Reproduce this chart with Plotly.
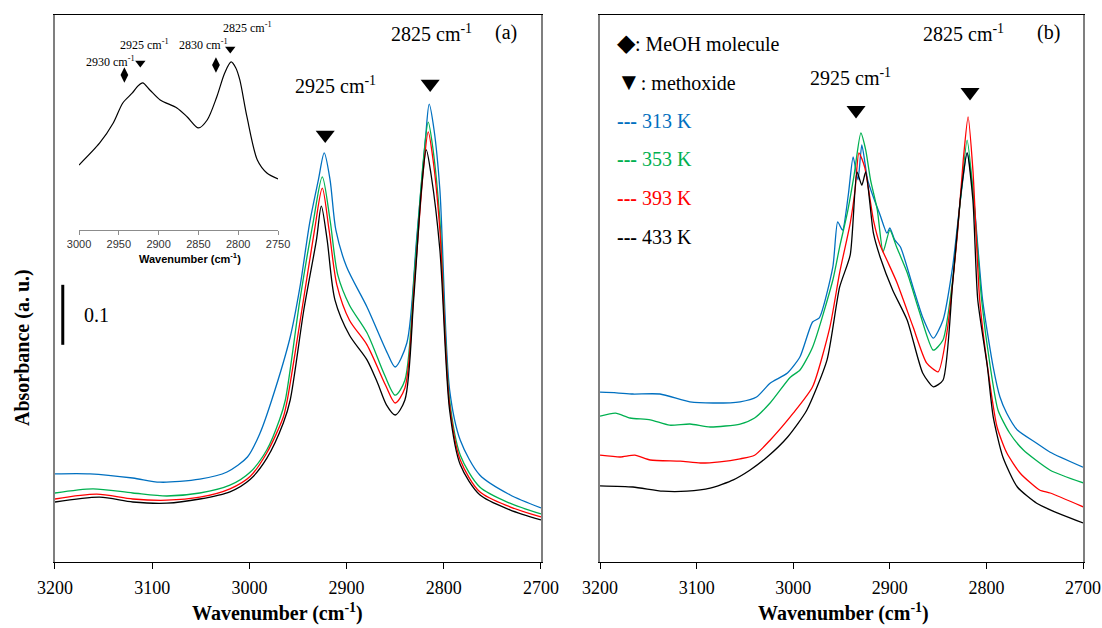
import plotly.graph_objects as go

# ---------------- Panel (a) data ----------------
a_wn_313 = [3200,3164,3120,3092,3051,3023,3002,2989,2977,2958,2948,2938,2929,2923,2917,2911,2900,2879,2858,2850,2838,2828,2819,2815,2810,2804,2794,2783,2763,2732,2700]
a_abs_313 = [0.147,0.147,0.140,0.133,0.138,0.150,0.175,0.215,0.270,0.375,0.458,0.565,0.637,0.682,0.637,0.553,0.492,0.425,0.348,0.325,0.365,0.537,0.703,0.763,0.720,0.620,0.287,0.203,0.145,0.112,0.090]

a_wn_353 = [3200,3161,3120,3085,3051,3020,2999,2982,2969,2963,2948,2934,2925,2917,2909,2897,2879,2861,2850,2840,2830,2821,2816,2811,2804,2794,2783,2763,2732,2700]
a_abs_353 = [0.115,0.122,0.115,0.110,0.115,0.128,0.150,0.187,0.237,0.270,0.437,0.570,0.642,0.570,0.478,0.428,0.382,0.312,0.278,0.303,0.487,0.670,0.733,0.687,0.570,0.270,0.178,0.125,0.098,0.080]

a_wn_393 = [3200,3157,3120,3085,3051,3020,2999,2982,2965,2961,2946,2933,2925,2918,2910,2897,2879,2860,2850,2840,2830,2821,2816,2811,2804,2794,2783,2763,2732,2700]
a_abs_393 = [0.105,0.113,0.105,0.103,0.108,0.122,0.143,0.182,0.242,0.270,0.420,0.553,0.623,0.553,0.462,0.403,0.362,0.295,0.265,0.290,0.470,0.653,0.717,0.670,0.553,0.262,0.170,0.117,0.092,0.075]

a_wn_433 = [3200,3154,3120,3085,3051,3020,2999,2982,2965,2958,2944,2931,2926,2920,2912,2897,2879,2868,2859,2850,2840,2831,2823,2818,2813,2804,2794,2783,2763,2732,2700]
a_abs_433 = [0.100,0.108,0.100,0.098,0.105,0.117,0.138,0.173,0.232,0.270,0.420,0.537,0.593,0.537,0.437,0.378,0.337,0.298,0.262,0.245,0.270,0.437,0.620,0.687,0.645,0.520,0.253,0.162,0.112,0.087,0.070]

# ---------------- Panel (b) data ----------------
b_wn_313 = [3200,3183,3166,3138,3107,3083,3055,3038,3024,3006,2993,2980,2973,2959,2954,2949,2943,2938,2933,2929,2923,2917,2910,2903,2900,2895,2889,2876,2866,2855,2845,2835,2827,2820,2814,2804,2793,2786,2779,2768,2748,2734,2700]
b_abs_313 = [0.283,0.282,0.280,0.280,0.267,0.265,0.267,0.275,0.298,0.315,0.342,0.400,0.407,0.492,0.567,0.553,0.612,0.675,0.637,0.695,0.637,0.608,0.578,0.548,0.557,0.537,0.525,0.458,0.408,0.373,0.403,0.492,0.603,0.682,0.620,0.437,0.325,0.275,0.248,0.220,0.198,0.183,0.158]

b_wn_353 = [3200,3184,3169,3148,3128,3107,3086,3055,3040,3024,3003,2993,2980,2959,2952,2944,2937,2930,2925,2920,2913,2907,2900,2893,2882,2869,2855,2845,2835,2827,2820,2814,2805,2796,2788,2776,2762,2734,2700]
b_abs_353 = [0.243,0.248,0.240,0.237,0.228,0.230,0.225,0.230,0.240,0.265,0.308,0.320,0.358,0.470,0.525,0.582,0.645,0.715,0.687,0.637,0.587,0.517,0.553,0.525,0.482,0.415,0.353,0.370,0.470,0.603,0.703,0.620,0.437,0.325,0.253,0.215,0.187,0.153,0.132]

b_wn_393 = [3200,3179,3164,3148,3117,3096,3076,3055,3040,3024,3000,2980,2962,2952,2941,2936,2932,2926,2917,2910,2903,2893,2876,2862,2850,2841,2830,2824,2819,2814,2807,2798,2789,2779,2765,2745,2734,2700]
b_abs_393 = [0.178,0.175,0.178,0.170,0.168,0.165,0.167,0.172,0.178,0.203,0.248,0.292,0.392,0.482,0.565,0.620,0.682,0.658,0.570,0.528,0.503,0.467,0.392,0.332,0.317,0.382,0.548,0.670,0.742,0.653,0.437,0.315,0.225,0.182,0.148,0.120,0.115,0.092]

b_wn_433 = [3200,3166,3135,3110,3086,3062,3045,3027,3006,2986,2965,2952,2941,2934,2929,2925,2917,2910,2897,2882,2866,2855,2845,2835,2826,2820,2814,2809,2799,2793,2783,2768,2748,2734,2700]
b_abs_433 = [0.127,0.125,0.118,0.118,0.123,0.137,0.153,0.175,0.208,0.253,0.337,0.458,0.512,0.650,0.628,0.650,0.548,0.508,0.453,0.403,0.315,0.292,0.303,0.465,0.620,0.682,0.603,0.437,0.325,0.242,0.175,0.125,0.098,0.087,0.065]

# ---------------- Inset data ----------------
inset_wn = [3000,2974,2957,2945,2933,2926,2920,2911,2898,2877,2864,2850,2839,2827,2817,2809,2803,2798,2789,2776,2764,2750]
inset_abs = [0.65,0.87,1.07,1.27,1.37,1.44,1.47,1.40,1.30,1.22,1.13,1.02,1.10,1.33,1.57,1.68,1.62,1.50,1.13,0.70,0.57,0.51]

temps = ["313 K", "353 K", "393 K", "433 K"]
colors = ["#0070C0", "#00B050", "#FF0000", "#000000"]

# marker positions (peak labels)
a_tri_wn = [2922, 2814]
a_tri_y = [0.712, 0.797]
b_tri_wn = [2935, 2817]
b_tri_y = [0.753, 0.783]
inset_tri_wn = [2923, 2810]
inset_tri_y = [1.67, 1.81]
inset_dia_wn = [2943, 2828]
inset_dia_y = [1.55, 1.65]

SERIF = "Liberation Serif, Times New Roman, serif"
SANS = "Liberation Sans, Arial, sans-serif"

fig = go.Figure()

a_sets = [(a_wn_313, a_abs_313), (a_wn_353, a_abs_353), (a_wn_393, a_abs_393), (a_wn_433, a_abs_433)]
b_sets = [(b_wn_313, b_abs_313), (b_wn_353, b_abs_353), (b_wn_393, b_abs_393), (b_wn_433, b_abs_433)]

for (wx, wy), c, t in zip(a_sets, colors, temps):
    fig.add_trace(go.Scatter(x=wx, y=wy, mode="lines", name=t,
                             line=dict(color=c, width=1.3, shape="spline", smoothing=0.8),
                             xaxis="x", yaxis="y", showlegend=False))
for (wx, wy), c, t in zip(b_sets, colors, temps):
    fig.add_trace(go.Scatter(x=wx, y=wy, mode="lines", name=t,
                             line=dict(color=c, width=1.3, shape="spline", smoothing=0.6),
                             xaxis="x2", yaxis="y2", showlegend=False))

fig.add_trace(go.Scatter(x=inset_wn, y=inset_abs, mode="lines",
                         line=dict(color="black", width=1.2, shape="spline", smoothing=0.8),
                         xaxis="x3", yaxis="y3", showlegend=False))

# triangles and diamonds
fig.add_trace(go.Scatter(x=a_tri_wn, y=a_tri_y, mode="markers",
                         marker=dict(symbol="triangle-down", size=16.5, color="black"),
                         xaxis="x", yaxis="y", showlegend=False))
fig.add_trace(go.Scatter(x=b_tri_wn, y=b_tri_y, mode="markers",
                         marker=dict(symbol="triangle-down", size=16.5, color="black"),
                         xaxis="x2", yaxis="y2", showlegend=False))
fig.add_trace(go.Scatter(x=inset_tri_wn, y=inset_tri_y, mode="markers",
                         marker=dict(symbol="triangle-down", size=9, color="black"),
                         xaxis="x3", yaxis="y3", showlegend=False))
fig.add_trace(go.Scatter(x=inset_dia_wn, y=inset_dia_y, mode="markers",
                         marker=dict(symbol="diamond-tall", size=11, color="black"),
                         xaxis="x3", yaxis="y3", showlegend=False))

ydom = [0.1051, 0.9761]
yrange = [0, 0.9117]
common_x = dict(range=[3200, 2700], dtick=100, ticks="outside", ticklen=6, tickwidth=1,
                tickcolor="black", showline=True, linecolor="black", linewidth=1.2, mirror=True,
                showgrid=False, zeroline=False, ticklabelstandoff=3, automargin=False,
                tickfont=dict(family=SERIF, size=18, color="black"))
common_y = dict(range=yrange, domain=ydom, showticklabels=False, ticks="", showline=True,
                linecolor="#7f7f7f", linewidth=1.6, mirror=True, showgrid=False, zeroline=False,
                automargin=False)

fig.update_layout(
    width=1102, height=628, margin=dict(l=0, r=0, t=0, b=0, pad=0, autoexpand=False),
    paper_bgcolor="white", plot_bgcolor="white",
    xaxis=dict(domain=[0.0499, 0.4909], anchor="y", **common_x),
    yaxis=dict(anchor="x", **common_y),
    xaxis2=dict(domain=[0.5445, 0.9828], anchor="y2", **common_x),
    yaxis2=dict(anchor="x2", **common_y),
    xaxis3=dict(domain=[0.0717, 0.2523], anchor="y3", range=[3000, 2750], dtick=50,
                ticks="outside", ticklen=4, tickcolor="#8c8c8c", showline=True,
                linecolor="#8c8c8c", linewidth=1, showgrid=False, zeroline=False,
                automargin=False,
                tickfont=dict(family=SANS, size=11, color="#333333")),
    yaxis3=dict(domain=[0.6338, 0.9682], anchor="x3", range=[0, 2.1], visible=False,
                automargin=False),
    showlegend=False,
)

# scale bar 0.1
fig.add_shape(type="line", xref="x", yref="y", x0=3192, x1=3192, y0=0.362, y1=0.462,
              line=dict(color="black", width=3))

ann = []
def A(text, x, y, xref, yref, size=20, color="black", family=SERIF, xanchor="center", **kw):
    ann.append(dict(text=text, x=x, y=y, xref=xref, yref=yref, showarrow=False,
                    font=dict(family=family, size=size, color=color), xanchor=xanchor,
                    yanchor="middle", **kw))

A("0.1", 3157, 0.412, "x", "y")
A("2825 cm<sup>-1</sup>", 2813, 0.882, "x", "y")
A("(a)", 2736, 0.882, "x", "y")
A("2925 cm<sup>-1</sup>", 2911, 0.795, "x", "y")
A("2825 cm<sup>-1</sup>", 2824, 0.882, "x2", "y2")
A("(b)", 2736, 0.882, "x2", "y2")
A("2925 cm<sup>-1</sup>", 2941, 0.808, "x2", "y2")

legend_y = [0.865, 0.800, 0.735, 0.672, 0.607, 0.542]
A("<span style='font-size:24px'>◆</span>: MeOH molecule", 3185, legend_y[0], "x2", "y2", xanchor="left")
A("<span style='font-size:24px'>▼</span>: methoxide", 3185, legend_y[1], "x2", "y2", xanchor="left")
for t, c, yy in zip(temps, colors, legend_y[2:]):
    A("<b>---</b> " + t, 3184, yy, "x2", "y2", color=c, xanchor="left")

# inset labels
A("2930 cm<sup>-1</sup>", 2961, 1.68, "x3", "y3", size=12)
A("2925 cm<sup>-1</sup>", 2918, 1.85, "x3", "y3", size=12)
A("2830 cm<sup>-1</sup>", 2844, 1.85, "x3", "y3", size=12)
A("2825 cm<sup>-1</sup>", 2788, 2.02, "x3", "y3", size=12)
A("<b>Wavenumber (cm<sup>-1</sup>)</b>", 190/1102, 1-258/628, "paper", "paper", size=11, family=SANS)

# axis titles
A("<b>Wavenumber (cm<sup>-1</sup>)</b>", 277/1102, 1-612/628, "paper", "paper", size=20)
A("<b>Wavenumber (cm<sup>-1</sup>)</b>", 843/1102, 1-612/628, "paper", "paper", size=20)
A("<b>Absorbance (a. u.)</b>", 22/1102, 1-348/628, "paper", "paper", size=20, textangle=-90)

fig.update_layout(annotations=ann)
fig.write_html("out.html")
